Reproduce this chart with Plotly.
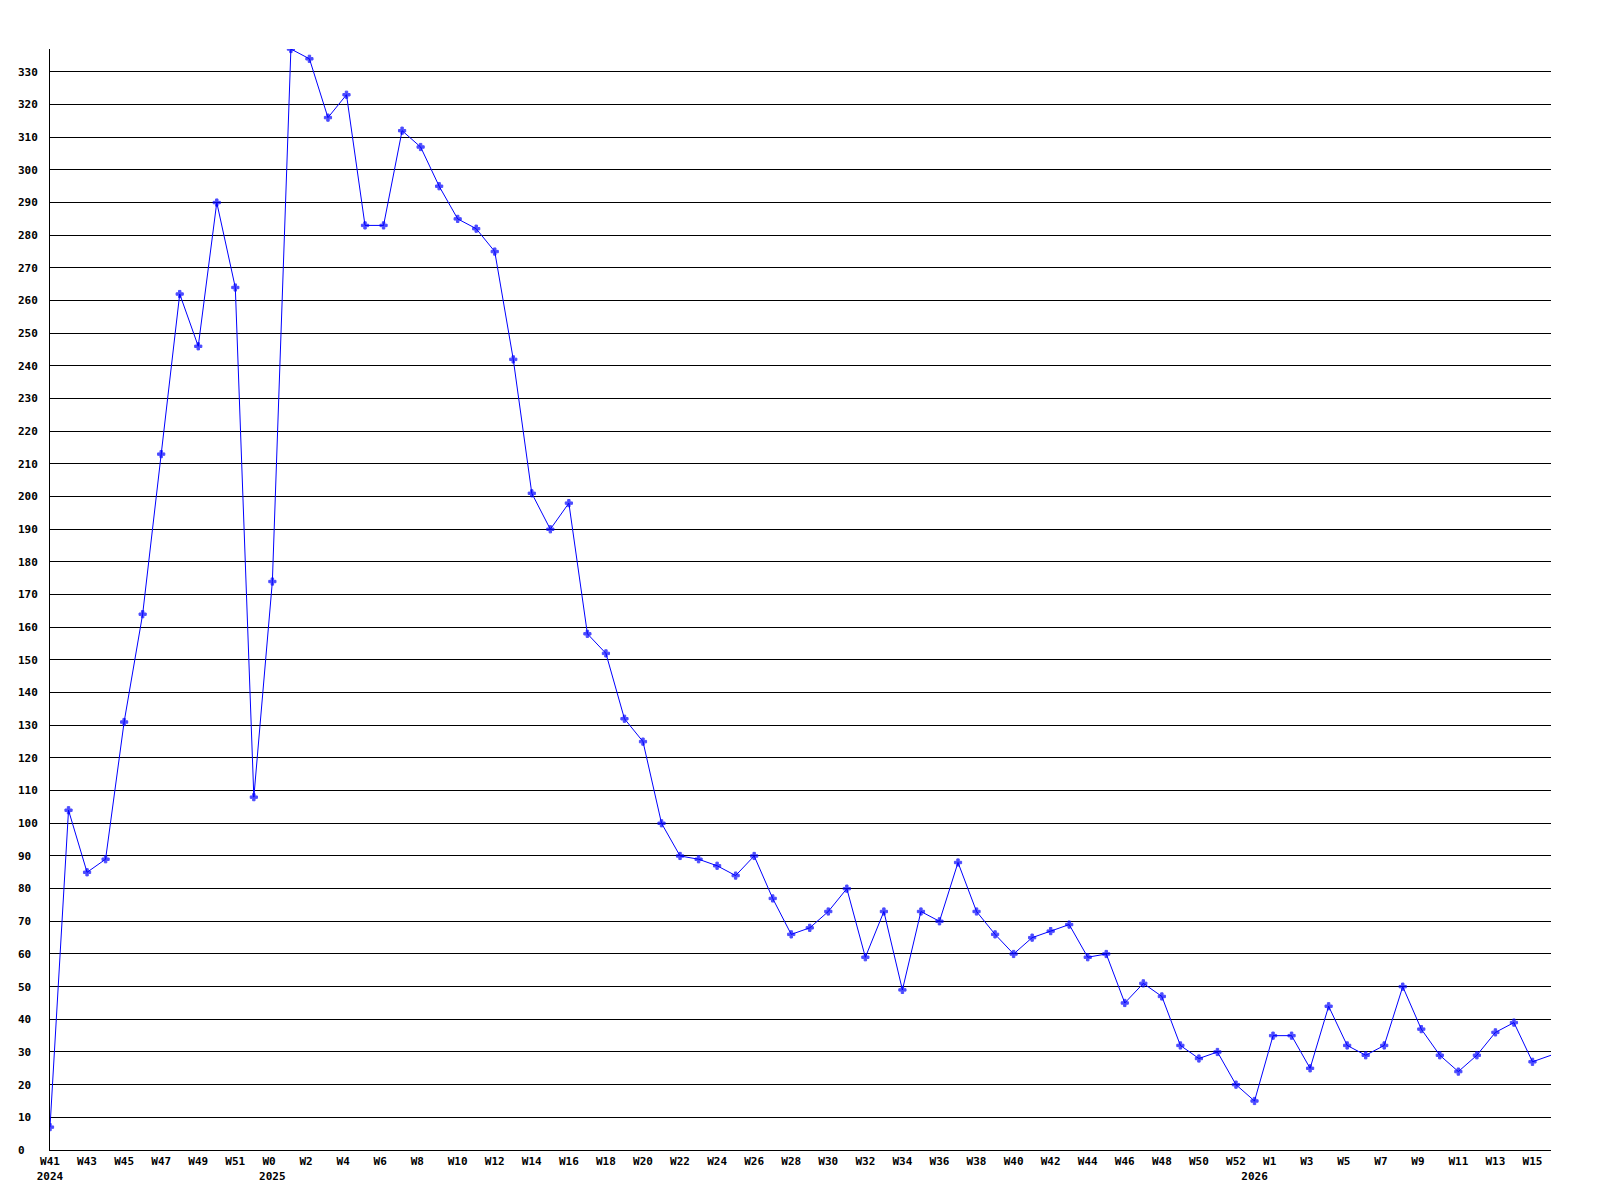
import plotly.graph_objects as go

# ---- data ----
weeks_2024 = ["W%d" % w for w in range(41, 53)]
weeks_2025 = ["W%d" % w for w in range(0, 53)]
weeks_2026 = ["W%d" % w for w in range(0, 17)]

values = [
    7, 104, 85, 89, 131, 164, 213, 262, 246, 290, 264, 108,          # 2024 W41-W52
    174, 337, 334, 316, 323, 283, 283, 312, 307, 295, 285, 282, 275,  # 2025 W0-W12
    242, 201, 190, 198, 158, 152, 132, 125, 100, 90, 89, 87, 84,      # W13-W25
    90, 77, 66, 68, 73, 80, 59, 73, 49, 73, 70, 88, 73,               # W26-W38
    66, 60, 65, 67, 69, 59, 60, 45, 51, 47, 32, 28, 30, 20,           # W39-W52
    15, 35, 35, 25, 44, 32, 29, 32, 50, 37, 29, 24, 29, 36, 39, 27, 29  # 2026 W0-W16
]

y_ticks = list(range(0, 331, 10))

# ---- build categories ----
cats, week_lab, year_lab = [], [], []
for yr, wk in (("2024", weeks_2024), ("2025", weeks_2025), ("2026", weeks_2026)):
    for i, w in enumerate(wk):
        cats.append(yr + " " + w)
        week_lab.append(w)
        year_lab.append(yr if i == 0 else "")

NB = "\u00a0"
tickvals, ticktext = [], []
for i, c in enumerate(cats):
    wl = week_lab[i].ljust(3, NB) if i % 2 == 0 else NB
    if year_lab[i] or i % 2 == 0:
        tickvals.append(c)
        txt = wl
        if year_lab[i]:
            txt = wl + "<br>" + year_lab[i]
        ticktext.append(txt)

marker_sizes = [6] * (len(values) - 1) + [0]

fig = go.Figure()
fig.add_trace(go.Scatter(
    x=cats, y=values, mode="lines+markers",
    line=dict(color="#0000ff", width=1),
    marker=dict(symbol="cross", size=marker_sizes, color="#0000ff",
                line=dict(color="#0000ff", width=1)),
    showlegend=False,
))

font = dict(family="DejaVu Sans Mono", size=11, color="black", weight="bold")

fig.update_layout(
    width=1600, height=1200,
    paper_bgcolor="white", plot_bgcolor="white",
    margin=dict(l=42, r=57, t=41, b=58),
    font=font,
    xaxis=dict(
        type="category", range=[0, len(cats) - 1],
        tickmode="array", tickvals=tickvals, ticktext=ticktext,
        showgrid=False, showline=True, linecolor="black", linewidth=1,
        ticks="", tickangle=0, tickfont=font, ticklabelstandoff=1,
        zeroline=False, automargin=False,
    ),
    yaxis=dict(
        range=[0, 337],
        tickmode="array", tickvals=y_ticks,
        ticktext=[str(v).ljust(3, NB) for v in y_ticks],
        showgrid=True, gridcolor="black", gridwidth=1,
        showline=True, linecolor="black", linewidth=1,
        ticks="", tickfont=font, ticklabelstandoff=9,
        zeroline=False, automargin=False,
    ),
)

fig.write_html("out.html")
